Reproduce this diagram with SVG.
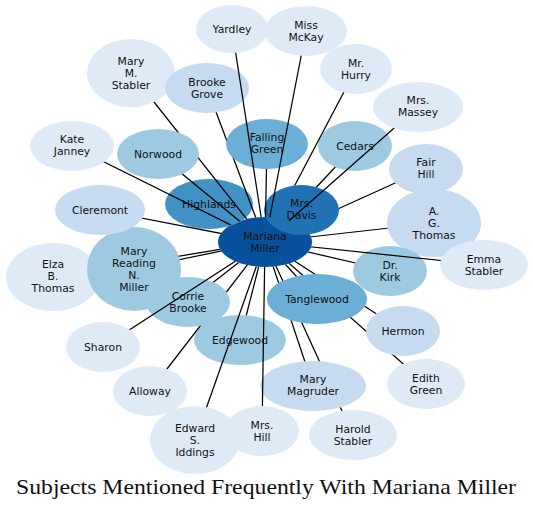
<svg xmlns="http://www.w3.org/2000/svg" xmlns:xlink="http://www.w3.org/1999/xlink" width="533" height="510" viewBox="0 0 533 510">
<style>
.lbl{font-family:"DejaVu Sans",sans-serif;font-size:10.8px;text-anchor:middle;fill:#111}
.b1{fill:#deebf7}.b2{fill:#c6dbef}.b3{fill:#9ecae1}.b4{fill:#6baed6}.b5{fill:#4292c6}.b6{fill:#2171b5}.b7{fill:#08519c}
.edge{stroke:#000;stroke-width:1.25;fill:none}
.title{font-family:"Liberation Serif","DejaVu Serif",serif;font-size:22px;text-anchor:middle;fill:#111}
</style>
<defs>
<ellipse id="s-mm" cx="265" cy="242" rx="47" ry="25"/>
<ellipse id="s-elza" cx="53" cy="277" rx="47" ry="34"/>
<ellipse id="s-mrnm" cx="134" cy="269" rx="47" ry="42"/>
<ellipse id="s-highlands" cx="209" cy="204" rx="44" ry="25"/>
<ellipse id="s-mms" cx="131" cy="73" rx="44" ry="34"/>
<ellipse id="s-norwood" cx="158" cy="154" rx="41" ry="25"/>
<ellipse id="s-kate" cx="72" cy="146" rx="42" ry="25"/>
<ellipse id="s-brooke" cx="207" cy="88" rx="42" ry="25"/>
<ellipse id="s-hurry" cx="356" cy="69" rx="36" ry="25"/>
<ellipse id="s-cedars" cx="355" cy="146" rx="37" ry="25"/>
<ellipse id="s-fair" cx="426" cy="169" rx="37" ry="25"/>
<ellipse id="s-davis" cx="301.5" cy="210" rx="37.5" ry="25"/>
<ellipse id="s-massey" cx="418" cy="107" rx="45" ry="25"/>
<ellipse id="s-falling" cx="267" cy="144" rx="41" ry="25"/>
<ellipse id="s-yardley" cx="232" cy="29" rx="36" ry="24"/>
<ellipse id="s-mckay" cx="306" cy="31" rx="41" ry="25"/>
<ellipse id="s-cleremont" cx="100" cy="210" rx="45" ry="25"/>
<ellipse id="s-ag" cx="434" cy="223" rx="47" ry="34"/>
<ellipse id="s-kirk" cx="390" cy="271" rx="37" ry="25"/>
<ellipse id="s-emma" cx="484" cy="265" rx="44" ry="25"/>
<ellipse id="s-alloway" cx="150" cy="391" rx="37" ry="25"/>
<ellipse id="s-corrie" cx="188" cy="302" rx="42" ry="25"/>
<ellipse id="s-sharon" cx="103" cy="347" rx="37" ry="25"/>
<ellipse id="s-edgewood" cx="240" cy="340" rx="46" ry="25"/>
<ellipse id="s-iddings" cx="195" cy="440" rx="45" ry="34"/>
<ellipse id="s-hill" cx="262" cy="431" rx="37" ry="25"/>
<ellipse id="s-harold" cx="353" cy="435" rx="44" ry="25"/>
<ellipse id="s-magruder" cx="313" cy="386" rx="53" ry="25"/>
<ellipse id="s-edith" cx="426" cy="384" rx="39" ry="25"/>
<ellipse id="s-hermon" cx="403" cy="331" rx="37" ry="25"/>
<ellipse id="s-tangle" cx="317" cy="299" rx="50" ry="25"/>

<mask id="m-elza" maskUnits="userSpaceOnUse" x="0" y="0" width="533" height="510"><rect width="533" height="510" fill="#fff"/><g fill="#000"><use href="#s-mm"/><use href="#s-elza"/><use href="#s-mrnm"/></g></mask>
<mask id="m-mrnm" maskUnits="userSpaceOnUse" x="0" y="0" width="533" height="510"><rect width="533" height="510" fill="#fff"/><g fill="#000"><use href="#s-mm"/><use href="#s-mrnm"/></g></mask>
<mask id="m-highlands" maskUnits="userSpaceOnUse" x="0" y="0" width="533" height="510"><rect width="533" height="510" fill="#fff"/><g fill="#000"><use href="#s-mm"/><use href="#s-highlands"/></g></mask>
<mask id="m-mms" maskUnits="userSpaceOnUse" x="0" y="0" width="533" height="510"><rect width="533" height="510" fill="#fff"/><g fill="#000"><use href="#s-mm"/><use href="#s-mms"/><use href="#s-norwood"/></g></mask>
<mask id="m-norwood" maskUnits="userSpaceOnUse" x="0" y="0" width="533" height="510"><rect width="533" height="510" fill="#fff"/><g fill="#000"><use href="#s-mm"/><use href="#s-norwood"/></g></mask>
<mask id="m-kate" maskUnits="userSpaceOnUse" x="0" y="0" width="533" height="510"><rect width="533" height="510" fill="#fff"/><g fill="#000"><use href="#s-mm"/><use href="#s-kate"/></g></mask>
<mask id="m-brooke" maskUnits="userSpaceOnUse" x="0" y="0" width="533" height="510"><rect width="533" height="510" fill="#fff"/><g fill="#000"><use href="#s-mm"/><use href="#s-brooke"/><use href="#s-falling"/></g></mask>
<mask id="m-hurry" maskUnits="userSpaceOnUse" x="0" y="0" width="533" height="510"><rect width="533" height="510" fill="#fff"/><g fill="#000"><use href="#s-mm"/><use href="#s-hurry"/><use href="#s-davis"/></g></mask>
<mask id="m-cedars" maskUnits="userSpaceOnUse" x="0" y="0" width="533" height="510"><rect width="533" height="510" fill="#fff"/><g fill="#000"><use href="#s-mm"/><use href="#s-cedars"/><use href="#s-davis"/></g></mask>
<mask id="m-fair" maskUnits="userSpaceOnUse" x="0" y="0" width="533" height="510"><rect width="533" height="510" fill="#fff"/><g fill="#000"><use href="#s-mm"/><use href="#s-fair"/><use href="#s-davis"/></g></mask>
<mask id="m-massey" maskUnits="userSpaceOnUse" x="0" y="0" width="533" height="510"><rect width="533" height="510" fill="#fff"/><g fill="#000"><use href="#s-mm"/><use href="#s-massey"/></g></mask>
<mask id="m-falling" maskUnits="userSpaceOnUse" x="0" y="0" width="533" height="510"><rect width="533" height="510" fill="#fff"/><g fill="#000"><use href="#s-mm"/><use href="#s-falling"/></g></mask>
<mask id="m-yardley" maskUnits="userSpaceOnUse" x="0" y="0" width="533" height="510"><rect width="533" height="510" fill="#fff"/><g fill="#000"><use href="#s-mm"/><use href="#s-yardley"/></g></mask>
<mask id="m-mckay" maskUnits="userSpaceOnUse" x="0" y="0" width="533" height="510"><rect width="533" height="510" fill="#fff"/><g fill="#000"><use href="#s-mm"/><use href="#s-mckay"/></g></mask>
<mask id="m-cleremont" maskUnits="userSpaceOnUse" x="0" y="0" width="533" height="510"><rect width="533" height="510" fill="#fff"/><g fill="#000"><use href="#s-mm"/><use href="#s-cleremont"/></g></mask>
<mask id="m-ag" maskUnits="userSpaceOnUse" x="0" y="0" width="533" height="510"><rect width="533" height="510" fill="#fff"/><g fill="#000"><use href="#s-mm"/><use href="#s-ag"/></g></mask>
<mask id="m-kirk" maskUnits="userSpaceOnUse" x="0" y="0" width="533" height="510"><rect width="533" height="510" fill="#fff"/><g fill="#000"><use href="#s-mm"/><use href="#s-kirk"/></g></mask>
<mask id="m-emma" maskUnits="userSpaceOnUse" x="0" y="0" width="533" height="510"><rect width="533" height="510" fill="#fff"/><g fill="#000"><use href="#s-mm"/><use href="#s-emma"/></g></mask>
<mask id="m-alloway" maskUnits="userSpaceOnUse" x="0" y="0" width="533" height="510"><rect width="533" height="510" fill="#fff"/><g fill="#000"><use href="#s-mm"/><use href="#s-alloway"/><use href="#s-corrie"/></g></mask>
<mask id="m-corrie" maskUnits="userSpaceOnUse" x="0" y="0" width="533" height="510"><rect width="533" height="510" fill="#fff"/><g fill="#000"><use href="#s-mm"/><use href="#s-corrie"/></g></mask>
<mask id="m-sharon" maskUnits="userSpaceOnUse" x="0" y="0" width="533" height="510"><rect width="533" height="510" fill="#fff"/><g fill="#000"><use href="#s-mm"/><use href="#s-sharon"/></g></mask>
<mask id="m-edgewood" maskUnits="userSpaceOnUse" x="0" y="0" width="533" height="510"><rect width="533" height="510" fill="#fff"/><g fill="#000"><use href="#s-mm"/><use href="#s-edgewood"/></g></mask>
<mask id="m-iddings" maskUnits="userSpaceOnUse" x="0" y="0" width="533" height="510"><rect width="533" height="510" fill="#fff"/><g fill="#000"><use href="#s-mm"/><use href="#s-iddings"/></g></mask>
<mask id="m-hill" maskUnits="userSpaceOnUse" x="0" y="0" width="533" height="510"><rect width="533" height="510" fill="#fff"/><g fill="#000"><use href="#s-mm"/><use href="#s-hill"/></g></mask>
<mask id="m-harold" maskUnits="userSpaceOnUse" x="0" y="0" width="533" height="510"><rect width="533" height="510" fill="#fff"/><g fill="#000"><use href="#s-mm"/><use href="#s-harold"/><use href="#s-magruder"/><use href="#s-tangle"/></g></mask>
<mask id="m-magruder" maskUnits="userSpaceOnUse" x="0" y="0" width="533" height="510"><rect width="533" height="510" fill="#fff"/><g fill="#000"><use href="#s-mm"/><use href="#s-magruder"/><use href="#s-tangle"/></g></mask>
<mask id="m-edith" maskUnits="userSpaceOnUse" x="0" y="0" width="533" height="510"><rect width="533" height="510" fill="#fff"/><g fill="#000"><use href="#s-mm"/><use href="#s-edith"/><use href="#s-hermon"/><use href="#s-tangle"/></g></mask>
<mask id="m-hermon" maskUnits="userSpaceOnUse" x="0" y="0" width="533" height="510"><rect width="533" height="510" fill="#fff"/><g fill="#000"><use href="#s-mm"/><use href="#s-hermon"/><use href="#s-tangle"/></g></mask>
<mask id="m-tangle" maskUnits="userSpaceOnUse" x="0" y="0" width="533" height="510"><rect width="533" height="510" fill="#fff"/><g fill="#000"><use href="#s-mm"/><use href="#s-tangle"/></g></mask>
</defs>

<rect width="533" height="510" fill="#fff"/>

<g id="nodes">
<g id="n-mariana-miller"><ellipse class="b7" cx="265" cy="242" rx="47" ry="25"/><text class="lbl" x="265" y="239.5">Mariana</text><text class="lbl" x="265" y="251.5">Miller</text></g>
<g id="n-elza-b-thomas"><ellipse class="b1" cx="53" cy="277" rx="47" ry="34"/><text class="lbl" x="53" y="267.5">Elza</text><text class="lbl" x="53" y="279.5">B.</text><text class="lbl" x="53" y="291.5">Thomas</text></g>
<g id="n-mary-reading-n-miller"><ellipse class="b3" cx="134" cy="269" rx="47" ry="42"/><text class="lbl" x="134" y="254.5">Mary</text><text class="lbl" x="134" y="266.5">Reading</text><text class="lbl" x="134" y="278.5">N.</text><text class="lbl" x="134" y="290.5">Miller</text></g>
<g id="n-highlands"><ellipse class="b5" cx="209" cy="204" rx="44" ry="25"/><text class="lbl" x="209" y="207.5">Highlands</text></g>
<g id="n-mary-m-stabler"><ellipse class="b1" cx="131" cy="73" rx="44" ry="34"/><text class="lbl" x="131" y="64.5">Mary</text><text class="lbl" x="131" y="76.5">M.</text><text class="lbl" x="131" y="88.5">Stabler</text></g>
<g id="n-norwood"><ellipse class="b3" cx="158" cy="154" rx="41" ry="25"/><text class="lbl" x="158" y="157.5">Norwood</text></g>
<g id="n-kate-janney"><ellipse class="b1" cx="72" cy="146" rx="42" ry="25"/><text class="lbl" x="72" y="143">Kate</text><text class="lbl" x="72" y="155">Janney</text></g>
<g id="n-brooke-grove"><ellipse class="b2" cx="207" cy="88" rx="42" ry="25"/><text class="lbl" x="207" y="85.5">Brooke</text><text class="lbl" x="207" y="97.5">Grove</text></g>
<g id="n-mr-hurry"><ellipse class="b1" cx="356" cy="69" rx="36" ry="25"/><text class="lbl" x="356" y="66.5">Mr.</text><text class="lbl" x="356" y="78.5">Hurry</text></g>
<g id="n-cedars"><ellipse class="b3" cx="355" cy="146" rx="37" ry="25"/><text class="lbl" x="355" y="149.5">Cedars</text></g>
<g id="n-fair-hill"><ellipse class="b2" cx="426" cy="169" rx="37" ry="25"/><text class="lbl" x="426" y="166">Fair</text><text class="lbl" x="426" y="178">Hill</text></g>
<g id="n-mrs-davis"><ellipse class="b6" cx="301.5" cy="210" rx="37.5" ry="25"/><text class="lbl" x="301.5" y="206.5">Mrs.</text><text class="lbl" x="301.5" y="218.5">Davis</text></g>
<g id="n-mrs-massey"><ellipse class="b1" cx="418" cy="107" rx="45" ry="25"/><text class="lbl" x="418" y="104">Mrs.</text><text class="lbl" x="418" y="116">Massey</text></g>
<g id="n-falling-green"><ellipse class="b4" cx="267" cy="144" rx="41" ry="25"/><text class="lbl" x="267" y="141">Falling</text><text class="lbl" x="267" y="153">Green</text></g>
<g id="n-yardley"><ellipse class="b1" cx="232" cy="29" rx="36" ry="24"/><text class="lbl" x="232" y="32.5">Yardley</text></g>
<g id="n-miss-mckay"><ellipse class="b1" cx="306" cy="31" rx="41" ry="25"/><text class="lbl" x="306" y="28.5">Miss</text><text class="lbl" x="306" y="40.5">McKay</text></g>
<g id="n-cleremont"><ellipse class="b2" cx="100" cy="210" rx="45" ry="25"/><text class="lbl" x="100" y="213.5">Cleremont</text></g>
<g id="n-a-g-thomas"><ellipse class="b2" cx="434" cy="223" rx="47" ry="34"/><text class="lbl" x="434" y="214.5">A.</text><text class="lbl" x="434" y="226.5">G.</text><text class="lbl" x="434" y="238.5">Thomas</text></g>
<g id="n-dr-kirk"><ellipse class="b3" cx="390" cy="271" rx="37" ry="25"/><text class="lbl" x="390" y="268.5">Dr.</text><text class="lbl" x="390" y="280.5">Kirk</text></g>
<g id="n-emma-stabler"><ellipse class="b1" cx="484" cy="265" rx="44" ry="25"/><text class="lbl" x="484" y="262.5">Emma</text><text class="lbl" x="484" y="274.5">Stabler</text></g>
<g id="n-alloway"><ellipse class="b1" cx="150" cy="391" rx="37" ry="25"/><text class="lbl" x="150" y="394.5">Alloway</text></g>
<g id="n-corrie-brooke"><ellipse class="b3" cx="188" cy="302" rx="42" ry="25"/><text class="lbl" x="188" y="299.5">Corrie</text><text class="lbl" x="188" y="311.5">Brooke</text></g>
<g id="n-sharon"><ellipse class="b1" cx="103" cy="347" rx="37" ry="25"/><text class="lbl" x="103" y="350.5">Sharon</text></g>
<g id="n-edgewood"><ellipse class="b3" cx="240" cy="340" rx="46" ry="25"/><text class="lbl" x="240" y="343.5">Edgewood</text></g>
<g id="n-edward-s-iddings"><ellipse class="b1" cx="195" cy="440" rx="45" ry="34"/><text class="lbl" x="195" y="431.5">Edward</text><text class="lbl" x="195" y="443.5">S.</text><text class="lbl" x="195" y="455.5">Iddings</text></g>
<g id="n-mrs-hill"><ellipse class="b1" cx="262" cy="431" rx="37" ry="25"/><text class="lbl" x="262" y="428.5">Mrs.</text><text class="lbl" x="262" y="440.5">Hill</text></g>
<g id="n-harold-stabler"><ellipse class="b1" cx="353" cy="435" rx="44" ry="25"/><text class="lbl" x="353" y="432.5">Harold</text><text class="lbl" x="353" y="444.5">Stabler</text></g>
<g id="n-mary-magruder"><ellipse class="b2" cx="313" cy="386" rx="53" ry="25"/><text class="lbl" x="313" y="383">Mary</text><text class="lbl" x="313" y="395">Magruder</text></g>
<g id="n-edith-green"><ellipse class="b1" cx="426" cy="384" rx="39" ry="25"/><text class="lbl" x="426" y="381.5">Edith</text><text class="lbl" x="426" y="393.5">Green</text></g>
<g id="n-hermon"><ellipse class="b2" cx="403" cy="331" rx="37" ry="25"/><text class="lbl" x="403" y="334.5">Hermon</text></g>
<g id="n-tanglewood"><ellipse class="b4" cx="317" cy="299" rx="50" ry="25"/><text class="lbl" x="317" y="302.5">Tanglewood</text></g>
</g>

<g id="connectors">
<line class="edge" mask="url(#m-elza)" x1="265" y1="242" x2="53" y2="277"/>
<line class="edge" mask="url(#m-mrnm)" x1="265" y1="242" x2="134" y2="269"/>
<line class="edge" mask="url(#m-highlands)" x1="265" y1="242" x2="209" y2="204"/>
<line class="edge" mask="url(#m-mms)" x1="265" y1="242" x2="131" y2="73"/>
<line class="edge" mask="url(#m-norwood)" x1="265" y1="242" x2="158" y2="154"/>
<line class="edge" mask="url(#m-kate)" x1="265" y1="242" x2="72" y2="146"/>
<line class="edge" mask="url(#m-brooke)" x1="265" y1="242" x2="207" y2="88"/>
<line class="edge" mask="url(#m-hurry)" x1="265" y1="242" x2="356" y2="69"/>
<line class="edge" mask="url(#m-cedars)" x1="265" y1="242" x2="355" y2="146"/>
<line class="edge" mask="url(#m-fair)" x1="265" y1="242" x2="426" y2="169"/>
<line class="edge" mask="url(#m-massey)" x1="265" y1="242" x2="418" y2="107"/>
<line class="edge" mask="url(#m-falling)" x1="265" y1="242" x2="267" y2="144"/>
<line class="edge" mask="url(#m-yardley)" x1="265" y1="242" x2="232" y2="29"/>
<line class="edge" mask="url(#m-mckay)" x1="265" y1="242" x2="306" y2="31"/>
<line class="edge" mask="url(#m-cleremont)" x1="265" y1="242" x2="100" y2="210"/>
<line class="edge" mask="url(#m-ag)" x1="265" y1="242" x2="434" y2="223"/>
<line class="edge" mask="url(#m-kirk)" x1="265" y1="242" x2="390" y2="271"/>
<line class="edge" mask="url(#m-emma)" x1="265" y1="242" x2="484" y2="265"/>
<line class="edge" mask="url(#m-alloway)" x1="265" y1="242" x2="150" y2="391"/>
<line class="edge" mask="url(#m-corrie)" x1="265" y1="242" x2="188" y2="302"/>
<line class="edge" mask="url(#m-sharon)" x1="265" y1="242" x2="103" y2="347"/>
<line class="edge" mask="url(#m-edgewood)" x1="265" y1="242" x2="240" y2="340"/>
<line class="edge" mask="url(#m-iddings)" x1="265" y1="242" x2="195" y2="440"/>
<line class="edge" mask="url(#m-hill)" x1="265" y1="242" x2="262" y2="431"/>
<line class="edge" mask="url(#m-harold)" x1="265" y1="242" x2="353" y2="435"/>
<line class="edge" mask="url(#m-magruder)" x1="265" y1="242" x2="313" y2="386"/>
<line class="edge" mask="url(#m-edith)" x1="265" y1="242" x2="426" y2="384"/>
<line class="edge" mask="url(#m-hermon)" x1="265" y1="242" x2="403" y2="331"/>
<line class="edge" mask="url(#m-tangle)" x1="265" y1="242" x2="317" y2="299"/>
</g>

<text class="title" x="266" y="494" textLength="500" lengthAdjust="spacingAndGlyphs">Subjects Mentioned Frequently With Mariana Miller</text>
</svg>
